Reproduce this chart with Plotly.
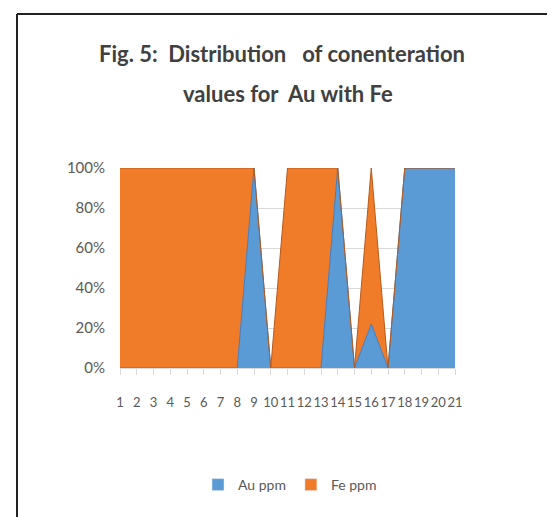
import plotly.graph_objects as go

# Data (percent share)
categories = list(range(1, 22))
au_ppm_pct = [0, 0, 0, 0, 0, 0, 0, 0, 100, 0, 0, 0, 0, 100, 0, 22, 0, 100, 100, 100, 100]
fe_ppm_pct = [100, 100, 100, 100, 100, 100, 100, 100, 0, 0, 100, 100, 100, 0, 0, 78, 0, 0, 0, 0, 0]
y_ticks = [0, 20, 40, 60, 80, 100]
y_tick_labels = ["0%", "20%", "40%", "60%", "80%", "100%"]
series_names = ["Au ppm", "Fe ppm"]
series_fill = ["#5B9BD5", "#F07C2A"]
series_edge = ["#3F7CC0", "#B85A1A"]
title_lines = ["Fig. 5:  Distribution   of conenteration", "values for  Au with Fe"]

W, H = 555, 517
L, R, T, B = 112, 108, 160, 157
pw, ph = W - L - R, H - T - B

FONT = "Lato, Roboto, sans-serif"

fig = go.Figure()
for name, vals, fc, lc in zip(series_names, [au_ppm_pct, fe_ppm_pct], series_fill, series_edge):
    fig.add_trace(go.Scatter(
        x=categories, y=vals, name=name, mode="lines",
        stackgroup="one", line=dict(color=lc, width=1),
        fillcolor=fc, showlegend=False,
    ))
# legend-only entries with square swatches
for name, fc in zip(series_names, series_fill):
    fig.add_trace(go.Bar(x=[None], y=[None], name=name, marker=dict(color=fc), showlegend=True))


def px_x(p):
    return (p - L) / pw


def px_y(p):
    return (H - B - p) / ph


shapes = [
    dict(type="line", xref="paper", yref="paper", x0=px_x(9), x1=px_x(554), y0=px_y(6), y1=px_y(6),
         line=dict(color="#222222", width=2)),
    dict(type="line", xref="paper", yref="paper", x0=px_x(9), x1=px_x(9), y0=px_y(6), y1=px_y(510),
         line=dict(color="#222222", width=2)),
    dict(type="line", xref="paper", yref="paper", x0=px_x(553), x1=px_x(553), y0=px_y(6), y1=px_y(510),
         line=dict(color="#DDDDDD", width=1)),
    dict(type="line", xref="paper", yref="paper", x0=px_x(9), x1=px_x(554), y0=px_y(510), y1=px_y(510),
         line=dict(color="#EEEEEE", width=2)),
]

annotations = [
    dict(text="<b>%s</b>" % title_lines[0], xref="paper", yref="paper",
         x=px_x(W / 2 - 4), y=px_y(46), xanchor="center", yanchor="middle", showarrow=False,
         font=dict(family=FONT, size=22, color="#404040")),
    dict(text="<b>%s</b>" % title_lines[1], xref="paper", yref="paper",
         x=px_x(W / 2 + 2), y=px_y(86), xanchor="center", yanchor="middle", showarrow=False,
         font=dict(family=FONT, size=22, color="#404040")),
]

fig.update_layout(
    width=W, height=H,
    margin=dict(l=L, r=R, t=T, b=B),
    paper_bgcolor="white", plot_bgcolor="white",
    font=dict(family=FONT, color="#595959", size=14),
    xaxis=dict(
        tickmode="array", tickvals=categories, ticktext=[str(c) for c in categories],
        range=[1, 21], showgrid=False, zeroline=False, tickangle=0,
        showline=True, linecolor="#D9D9D9", ticks="outside", tickcolor="#D9D9D9", ticklen=6,
        ticklabelstandoff=16, tickfont=dict(size=13, color="#595959"),
    ),
    yaxis=dict(
        tickmode="array", tickvals=y_ticks, ticktext=y_tick_labels, range=[0, 100],
        showgrid=True, gridcolor="#D9D9D9", zeroline=False, showline=False,
        ticklabelstandoff=14, tickfont=dict(size=15, color="#595959"),
    ),
    legend=dict(
        orientation="h", x=px_x(282), xanchor="center", y=px_y(461), yanchor="top",
        font=dict(size=14, color="#595959"), traceorder="normal", itemwidth=30,
    ),
    shapes=shapes,
    annotations=annotations,
)

fig.write_html("out.html")
